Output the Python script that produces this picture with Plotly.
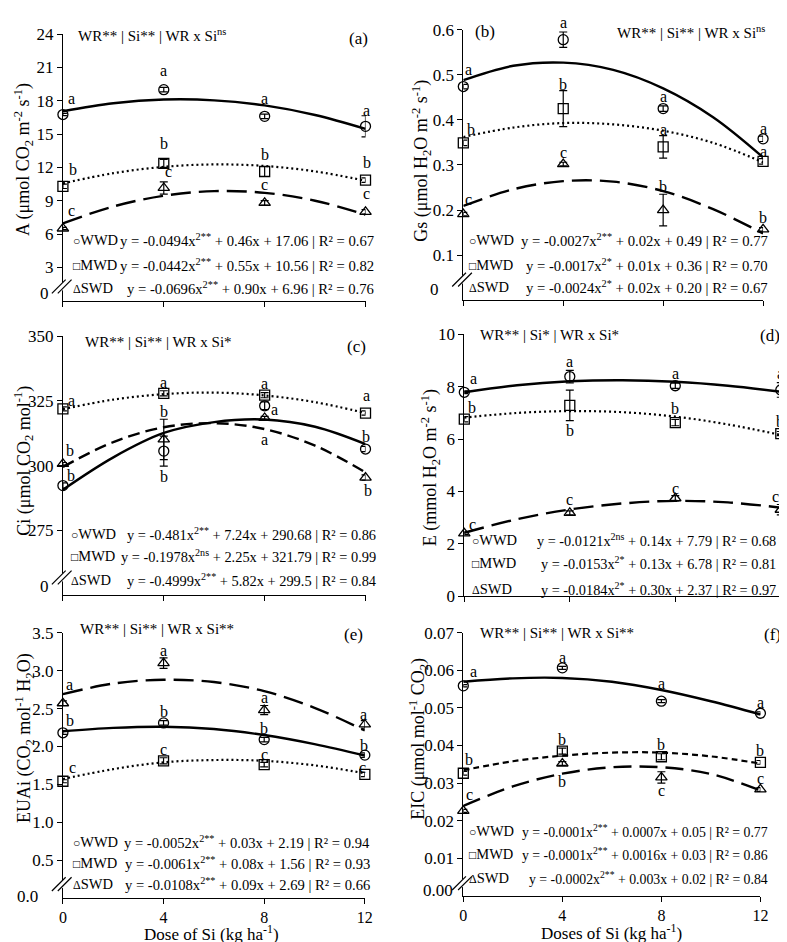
import plotly.graph_objects as go

W, H = 787, 942
FONT = "Liberation Serif"

doses = [0, 4, 8, 12]
fit_x = [0, 2, 4, 6, 8, 10, 12]
treatments = ["WWD", "MWD", "SWD"]

# ---------------- (a) A ----------------
A_WWD = [16.76, 19.0, 16.6, 15.7]
A_MWD = [10.3, 12.36, 11.63, 10.86]
A_SWD = [6.5, 10.15, 8.8, 8.0]
A_WWD_err = [0.1, 0.2, 0.2, 0.95]
A_MWD_err = [0.2, 0.35, 0.45, 0.2]
A_SWD_err = [0.1, 0.55, 0.2, 0.2]
A_WWD_fit = [17.06, 17.78, 18.11, 18.04, 17.58, 16.72, 15.47]
A_MWD_fit = [10.56, 11.48, 12.05, 12.27, 12.13, 11.64, 10.80]
A_SWD_fit = [6.96, 8.48, 9.45, 9.86, 9.71, 9.00, 7.74]
A_WWD_let = ["a", "a", "a", "a"]
A_MWD_let = ["b", "b", "b", "b"]
A_SWD_let = ["c", "c", "c", "c"]
A_eq = ["y = -0.0494x<sup>2**</sup> + 0.46x + 17.06 | R² = 0.67",
        "y = -0.0442x<sup>2**</sup> + 0.55x + 10.56 | R² = 0.82",
        "y = -0.0696x<sup>2**</sup> + 0.90x + 6.96 | R² = 0.76"]

# ---------------- (b) Gs ----------------
Gs_WWD = [0.474, 0.578, 0.425, 0.358]
Gs_MWD = [0.349, 0.425, 0.340, 0.308]
Gs_SWD = [0.191, 0.302, 0.200, 0.157]
Gs_WWD_err = [0.005, 0.017, 0.006, 0.006]
Gs_MWD_err = [0.006, 0.04, 0.025, 0.006]
Gs_SWD_err = [0.004, 0.004, 0.035, 0.004]
Gs_WWD_fit = [0.488, 0.520, 0.527, 0.511, 0.470, 0.406, 0.317]
Gs_MWD_fit = [0.362, 0.383, 0.393, 0.390, 0.376, 0.349, 0.306]
Gs_SWD_fit = [0.209, 0.246, 0.264, 0.263, 0.242, 0.202, 0.148]
Gs_WWD_let = ["a", "a", "a", "a"]
Gs_MWD_let = ["b", "b", "a", "a"]
Gs_SWD_let = ["c", "c", "b", "b"]
Gs_eq = ["y = -0.0027x<sup>2**</sup> + 0.02x + 0.49 | R² = 0.77",
         "y = -0.0017x<sup>2*</sup> + 0.01x + 0.36 | R² = 0.70",
         "y = -0.0024x<sup>2*</sup> + 0.02x + 0.20 | R² = 0.67"]

# ---------------- (c) Ci ----------------
Ci_WWD = [292.3, 305.6, 323.1, 306.4]
Ci_MWD = [321.9, 327.9, 327.2, 320.3]
Ci_SWD = [300.7, 310.1, 318.4, 295.4]
Ci_WWD_err = [1.0, 5.8, 1.5, 1.0]
Ci_MWD_err = [0.8, 1.0, 1.0, 0.8]
Ci_SWD_err = [0.5, 7.8, 0.6, 1.0]
Ci_WWD_fit = [290.7, 303.2, 312.6, 316.8, 317.8, 315.0, 308.3]
Ci_MWD_fit = [321.8, 325.5, 327.6, 328.2, 327.1, 324.5, 320.3]
Ci_SWD_fit = [299.5, 309.1, 314.8, 316.4, 314.1, 307.7, 297.4]
Ci_WWD_let = ["b", "b", "a", "b"]
Ci_MWD_let = ["a", "a", "a", "a"]
Ci_SWD_let = ["b", "b", "a", "b"]
Ci_eq = ["y = -0.481x<sup>2**</sup> + 7.24x + 290.68 | R² = 0.86",
         "y = -0.1978x<sup>2ns</sup> + 2.25x + 321.79 | R² = 0.99",
         "y = -0.4999x<sup>2**</sup> + 5.82x + 299.5 | R² = 0.84"]

# ---------------- (d) E ----------------
E_WWD = [7.79, 8.39, 8.04, 7.88]
E_MWD = [6.76, 7.29, 6.63, 6.21]
E_SWD = [2.40, 3.18, 3.74, 3.30]
E_WWD_err = [0.05, 0.24, 0.1, 0.28]
E_MWD_err = [0.1, 0.58, 0.12, 0.08]
E_SWD_err = [0.05, 0.08, 0.1, 0.2]
E_WWD_fit = [7.79, 8.06, 8.21, 8.25, 8.19, 8.04, 7.81]
E_MWD_fit = [6.82, 7.00, 7.07, 7.03, 6.86, 6.56, 6.16]
E_SWD_fit = [2.42, 2.94, 3.31, 3.54, 3.64, 3.58, 3.38]
E_WWD_let = ["a", "a", "a", "a"]
E_MWD_let = ["b", "b", "b", "b"]
E_SWD_let = ["c", "c", "c", "c"]
E_eq = ["y = -0.0121x<sup>2ns</sup> + 0.14x + 7.79 | R² = 0.68",
        "y = -0.0153x<sup>2*</sup> + 0.13x + 6.78 | R² = 0.81",
        "y = -0.0184x<sup>2*</sup> + 0.30x + 2.37 | R² = 0.97"]

# ---------------- (e) EUAi ----------------
EUAi_WWD = [2.18, 2.31, 2.09, 1.885]
EUAi_MWD = [1.54, 1.81, 1.76, 1.63]
EUAi_SWD = [2.57, 3.10, 2.48, 2.29]
EUAi_WWD_err = [0.02, 0.03, 0.03, 0.03]
EUAi_MWD_err = [0.02, 0.04, 0.03, 0.03]
EUAi_SWD_err = [0.03, 0.07, 0.06, 0.05]
EUAi_WWD_fit = [2.20, 2.245, 2.26, 2.23, 2.15, 2.03, 1.88]
EUAi_MWD_fit = [1.57, 1.70, 1.79, 1.82, 1.81, 1.75, 1.645]
EUAi_SWD_fit = [2.69, 2.83, 2.88, 2.85, 2.73, 2.51, 2.21]
EUAi_WWD_let = ["b", "b", "b", "b"]
EUAi_MWD_let = ["c", "c", "c", "c"]
EUAi_SWD_let = ["a", "a", "a", "a"]
EUAi_eq = ["y = -0.0052x<sup>2**</sup> + 0.03x + 2.19 | R² = 0.94",
           "y = -0.0061x<sup>2**</sup> + 0.08x + 1.56 | R² = 0.93",
           "y = -0.0108x<sup>2**</sup> + 0.09x + 2.69 | R² = 0.66"]

# ---------------- (f) EIC ----------------
EIC_WWD = [0.0559, 0.0607, 0.0518, 0.0486]
EIC_MWD = [0.0326, 0.0385, 0.0370, 0.0355]
EIC_SWD = [0.0226, 0.0352, 0.0315, 0.0283]
EIC_WWD_err = [0.0003, 0.0004, 0.0004, 0.0004]
EIC_MWD_err = [0.0005, 0.0008, 0.0008, 0.0005]
EIC_SWD_err = [0.0004, 0.0005, 0.0015, 0.0005]
EIC_WWD_fit = [0.0570, 0.0579, 0.0580, 0.0570, 0.0548, 0.0518, 0.0483]
EIC_MWD_fit = [0.0334, 0.0358, 0.0373, 0.0381, 0.0381, 0.0371, 0.0352]
EIC_SWD_fit = [0.0239, 0.0291, 0.0325, 0.0342, 0.0342, 0.0324, 0.0280]
EIC_WWD_let = ["a", "a", "a", "a"]
EIC_MWD_let = ["b", "b", "b", "b"]
EIC_SWD_let = ["c", "b", "c", "c"]
EIC_eq = ["y = -0.0001x<sup>2**</sup> + 0.0007x + 0.05 | R² = 0.77",
          "y = -0.0001x<sup>2**</sup> + 0.0016x + 0.03 | R² = 0.86",
          "y = -0.0002x<sup>2**</sup> + 0.003x + 0.02 | R² = 0.84"]

# ---------------- layout / style (pixel positions) ----------------
def PX(x):
    return x / W

def PY(y):
    return 1 - y / H

panels = [
    dict(tag="(a)", dom=(51.7, 359, 17.5, 289.5), yr=[0, 24], tv=[3, 6, 9, 12, 15, 18, 21, 24], fmt="d",
         ser=[(A_WWD, A_WWD_err, A_WWD_fit, A_WWD_let), (A_MWD, A_MWD_err, A_MWD_fit, A_MWD_let),
              (A_SWD, A_SWD_err, A_SWD_fit, A_SWD_let)], eq=A_eq, eqsize=14.7,
         dash=["solid", "2px,3px", "20px,8px"],
         off=[[(9, -16), (0, -19), (0, -18), (1, -16)], [(10, -17), (0, -20), (0, -17), (1, -18)],
              [(9, -18), (5, -16), (0, -18), (1, -18)]],
         top=("WR** | Si** | WR x Si<sup>ns</sup>", 65, 18.3, "left"), lab=(351.7, 21.7),
         leg=(60, [227.7, 253.3, 276.7], 370), zero=("0", 40, 282.5), brk=(50.5, 275),
         ytitle=("A (μmol CO<sub>2</sub> m<sup>-2</sup> s<sup>-1</sup>)", 11, 145)),
    dict(tag="(b)", dom=(458.3, 762.7, 13, 289), yr=[0, 0.6], tv=[0.1, 0.2, 0.3, 0.4, 0.5, 0.6], fmt=".1f",
         ser=[(Gs_WWD, Gs_WWD_err, Gs_WWD_fit, Gs_WWD_let), (Gs_MWD, Gs_MWD_err, Gs_MWD_fit, Gs_MWD_let),
              (Gs_SWD, Gs_SWD_err, Gs_SWD_fit, Gs_SWD_let)], eq=Gs_eq, eqsize=14.7,
         dash=["solid", "2px,3px", "20px,8px"],
         off=[[(5, -17), (0, -17), (0, -12), (0, -10)], [(8, -13), (0, -24), (0, -17), (0, -10)],
              [(5, -15), (0, -12), (0, -24), (0, -12)]],
         top=("WR** | Si** | WR x Si<sup>ns</sup>", 766.7, 15, "right"), lab=(480.7, 15),
         leg=(461.7, [227.7, 253.3, 276], 769.3), zero=("0", 436, 278.3), brk=(457, 268),
         ytitle=("Gs (μmol H<sub>2</sub>O m<sup>-2</sup> s<sup>-1</sup>)", 415, 147)),
    dict(tag="(c)", dom=(51.7, 359, 325.7, 590), yr=[250, 350], tv=[275, 300, 325, 350], fmt="d",
         ser=[(Ci_WWD, Ci_WWD_err, Ci_WWD_fit, Ci_WWD_let), (Ci_MWD, Ci_MWD_err, Ci_MWD_fit, Ci_MWD_let),
              (Ci_SWD, Ci_SWD_err, Ci_SWD_fit, Ci_SWD_let)], eq=Ci_eq, eqsize=14.4,
         dash=["solid", "2px,3px", "12px,6px"],
         off=[[(8, -10), (0, 25), (10, 4), (0, -13)], [(9, -8), (0, -11), (0, -12), (1, -18)],
              [(7, -13), (0, -28), (0, 22), (2, 13)]],
         top=("WR** | Si** | WR x Si*", 71.7, 331.7, "left"), lab=(350, 336),
         leg=(58.3, [527.7, 550, 575], 371.7), zero=("0", 40, 581), brk=(50.5, 572),
         ytitle=("Ci (μmol CO<sub>2</sub> mol<sup>-1</sup>)", 12, 453)),
    dict(tag="(d)", dom=(459.3, 780.7, 324, 591), yr=[0, 10], tv=[0, 2, 4, 6, 8, 10], fmt="d",
         ser=[(E_WWD, E_WWD_err, E_WWD_fit, E_WWD_let), (E_MWD, E_MWD_err, E_MWD_fit, E_MWD_let),
              (E_SWD, E_SWD_err, E_SWD_fit, E_SWD_let)], eq=E_eq, eqsize=14.3,
         dash=["solid", "2px,3px", "20px,8px"],
         off=[[(9, -14), (0, -15), (0, -12), (0, -16)], [(8, -12), (0, 25), (0, -14), (-1, -12)],
              [(8, -9), (0, -13), (0, -10), (-5, -13)]],
         top=("WR** | Si* | WR x Si*", 473.3, 325, "left"), lab=(770, 325),
         leg=(465, [533.3, 557.3, 583.3], 778.3), zero=None, brk=None,
         ytitle=("E (mmol H<sub>2</sub>O m<sup>-2</sup> s<sup>-1</sup>)", 425, 460)),
    dict(tag="(e)", dom=(51.7, 358.3, 628.5, 899), yr=[0, 3.5], tv=[0.5, 1.0, 1.5, 2.0, 2.5, 3.0, 3.5], fmt=".1f",
         ser=[(EUAi_WWD, EUAi_WWD_err, EUAi_WWD_fit, EUAi_WWD_let),
              (EUAi_MWD, EUAi_MWD_err, EUAi_MWD_fit, EUAi_MWD_let),
              (EUAi_SWD, EUAi_SWD_err, EUAi_SWD_fit, EUAi_SWD_let)], eq=EUAi_eq, eqsize=14.6,
         dash=["solid", "2px,3px", "20px,8px"],
         off=[[(7, -12), (0, -11), (0, -11), (-1, -10)], [(10, -14), (0, -11), (0, -10), (-2, -7)],
              [(7, -19), (0, -13), (0, -13), (-1, -10)]],
         top=("WR** | Si** | WR x Si**", 66.7, 625, "left"), lab=(346.7, 630),
         leg=(60, [841.7, 863.3, 885], 366), zero=("0.0", 28.5, 897.7), brk=(50.5, 885),
         ytitle=("EUAi (CO<sub>2</sub> mol<sup>-1</sup> H<sub>2</sub>O)", 12, 736),
         xtitle=("Dose of Si (kg ha<sup>-1</sup>)", 203, 934.5)),
    dict(tag="(f)", dom=(458.3, 760, 628.6, 896.7), yr=[0, 0.07],
         tv=[0.01, 0.02, 0.03, 0.04, 0.05, 0.06, 0.07], fmt=".2f",
         ser=[(EIC_WWD, EIC_WWD_err, EIC_WWD_fit, EIC_WWD_let),
              (EIC_MWD, EIC_MWD_err, EIC_MWD_fit, EIC_MWD_let),
              (EIC_SWD, EIC_SWD_err, EIC_SWD_fit, EIC_SWD_let)], eq=EIC_eq, eqsize=13.8,
         dash=["solid", "6px,4px", "18px,8px"],
         off=[[(10, -14), (0, -10), (0, -18), (0, -11)], [(6, -14), (0, -12), (0, -12), (0, -12)],
              [(6, -16), (0, 18), (0, 13), (0, -11)]],
         top=("WR** | Si** | WR x Si**", 473.3, 628.3, "left"), lab=(772, 630),
         leg=(461.7, [831, 854.3, 878.3], 769.3), zero=("0.00", 450, 891), brk=(457, 884),
         ytitle=("EIC (μmol mol<sup>-1</sup> CO<sub>2</sub>)", 412, 737),
         xtitle=("Doses of Si (kg ha<sup>-1</sup>)", 609, 934)),
]

symbols = ["circle-open", "square-open", "triangle-up-open"]
leg_glyph = ["○", "□", "Δ"]
widths = [2.4, 2.2, 2.4]

fig = go.Figure()
annotations = []
shapes = []
layout = {}

for i, p in enumerate(panels):
    n = "" if i == 0 else str(i + 1)
    xr, yr = "x" + n, "y" + n
    L, R, T, B = p["dom"]
    bottom_row = i >= 4
    layout["xaxis" + n] = dict(domain=[PX(L), PX(R)], range=[0, 12], anchor=yr, showline=True,
                               linecolor="black", linewidth=1, ticks="outside", ticklen=5,
                               tickcolor="black", tickvals=doses, showticklabels=bottom_row,
                               showgrid=False, zeroline=False, fixedrange=True,
                               tickfont=dict(family=FONT, size=16, color="black"))
    layout["yaxis" + n] = dict(domain=[PY(B), PY(T)], range=p["yr"], anchor=xr, showline=True,
                               linecolor="black", linewidth=1, ticks="outside", ticklen=5,
                               tickcolor="black", tickvals=p["tv"],
                               tickformat=p["fmt"] if p["fmt"] != "d" else None,
                               showgrid=False, zeroline=False, fixedrange=True,
                               tickfont=dict(family=FONT, size=17, color="black"))
    for s, (vals, err, fit, lets) in enumerate(p["ser"]):
        fig.add_trace(go.Scatter(x=fit_x, y=fit, mode="lines", xaxis=xr, yaxis=yr,
                                 line=dict(color="black", width=widths[s], dash=p["dash"][s],
                                           shape="spline", smoothing=1),
                                 cliponaxis=False, showlegend=False, hoverinfo="skip"))
        fig.add_trace(go.Scatter(x=doses, y=vals, mode="markers", xaxis=xr, yaxis=yr,
                                 marker=dict(symbol=symbols[s], size=10, color="black",
                                             line=dict(width=1.3, color="black")),
                                 error_y=dict(type="data", array=err, color="black", thickness=1.2, width=4),
                                 cliponaxis=False, showlegend=False, name=treatments[s]))
        for k in range(4):
            dx, dy = p["off"][s][k]
            annotations.append(dict(x=doses[k], y=vals[k], xref=xr, yref=yr, text=lets[k],
                                    showarrow=False, xshift=dx, yshift=-dy,
                                    font=dict(family=FONT, size=16, color="black")))
        lx, lys, rx = p["leg"]
        label = '<span style="font-size:12px">%s</span>%s' % (leg_glyph[s], treatments[s])
        annotations.append(dict(x=PX(lx), y=PY(lys[s]), xref="paper", yref="paper", text=label,
                                showarrow=False, xanchor="left", yanchor="middle",
                                font=dict(family=FONT, size=14.5, color="black")))
        annotations.append(dict(x=PX(rx), y=PY(lys[s]), xref="paper", yref="paper", text=p["eq"][s],
                                showarrow=False, xanchor="right", yanchor="middle",
                                font=dict(family=FONT, size=p["eqsize"], color="black")))
    txt, tx, ty, anc = p["top"]
    annotations.append(dict(x=PX(tx), y=PY(ty), xref="paper", yref="paper", text=txt, showarrow=False,
                            xanchor=anc, yanchor="middle", font=dict(family=FONT, size=15, color="black")))
    annotations.append(dict(x=PX(p["lab"][0]), y=PY(p["lab"][1]), xref="paper", yref="paper", text=p["tag"],
                            showarrow=False, xanchor="center", yanchor="middle",
                            font=dict(family=FONT, size=17, color="black")))
    ttl, tx, ty = p["ytitle"]
    annotations.append(dict(x=PX(tx), y=PY(ty), xref="paper", yref="paper", text=ttl, showarrow=False,
                            textangle=-90, xanchor="center", yanchor="middle",
                            font=dict(family=FONT, size=18, color="black")))
    if "xtitle" in p:
        ttl, tx, ty = p["xtitle"]
        annotations.append(dict(x=PX(tx), y=PY(ty), xref="paper", yref="paper", text=ttl, showarrow=False,
                                xanchor="center", yanchor="middle",
                                font=dict(family=FONT, size=17, color="black")))
    if p["zero"]:
        zt, zx, zy = p["zero"]
        annotations.append(dict(x=PX(zx), y=PY(zy), xref="paper", yref="paper", text=zt, showarrow=False,
                                xanchor="right", yanchor="middle",
                                font=dict(family=FONT, size=17, color="black")))
    if p["brk"]:
        bx, by = p["brk"]
        shapes.append(dict(type="rect", xref="paper", yref="paper", layer="above",
                           x0=PX(L - 2), x1=PX(L + 2), y0=PY(by + 4), y1=PY(by - 4),
                           fillcolor="white", line=dict(width=0)))
        for o in (-3, 3):
            shapes.append(dict(type="line", xref="paper", yref="paper", layer="above",
                               x0=PX(bx + o - 7), y0=PY(by + 7), x1=PX(bx + o + 7), y1=PY(by - 7),
                               line=dict(color="black", width=1.2)))

fig.update_layout(width=W, height=H, autosize=False, margin=dict(l=0, r=0, t=0, b=0),
                  paper_bgcolor="white", plot_bgcolor="white", showlegend=False,
                  font=dict(family=FONT, color="black"),
                  annotations=annotations, shapes=shapes, **layout)

fig.write_html("out.html")
